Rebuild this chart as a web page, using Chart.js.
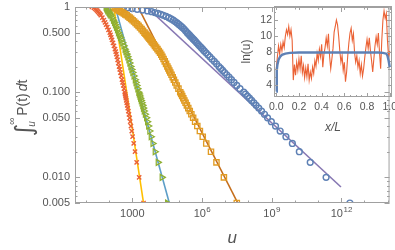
<!DOCTYPE html>
<html>
<head>
<meta charset="utf-8">
<script src="https://cdn.jsdelivr.net/npm/chart.js@4.4.1/dist/chart.umd.min.js"></script>
<style>
  html, body { margin: 0; padding: 0; background: #fff; }
  #wrap { position: relative; width: 395px; height: 250px; overflow: hidden; }
  #main { position: absolute; left: 0; top: 0; }
  #inset { position: absolute; left: 232px; top: 0; }
</style>
</head>
<body>
<div id="wrap">
  <canvas id="main" width="395" height="250"></canvas>
  <canvas id="inset" width="163" height="140"></canvas>
</div>
<script>
// --- survival curves ---
// probability levels for the two steep samples (red, green)
const ccdfLevels = [1, 0.975, 0.95, 0.925, 0.9, 0.875, 0.85, 0.825, 0.8, 0.75, 0.7, 0.66, 0.62, 0.58, 0.54, 0.5,
  0.47, 0.44, 0.41, 0.38, 0.35, 0.32, 0.3, 0.28, 0.26, 0.24, 0.22, 0.2, 0.185, 0.17, 0.155, 0.14, 0.13, 0.12, 0.11, 0.1,
  0.095, 0.09, 0.085, 0.08, 0.075, 0.07, 0.065, 0.06, 0.055, 0.05, 0.045, 0.04, 0.035, 0.03, 0.025, 0.02, 0.015, 0.01, 0.005];
// finer levels for the two shallow samples (orange, blue)
const denseLevels = [1, 0.98, 0.96, 0.94, 0.92, 0.9, 0.88, 0.86, 0.84, 0.82, 0.8,
  0.775, 0.75, 0.725, 0.7, 0.675, 0.65, 0.625, 0.6, 0.575, 0.55, 0.525, 0.5,
  0.485, 0.47, 0.455, 0.44, 0.425, 0.41, 0.395, 0.38, 0.365, 0.35, 0.335, 0.32, 0.305, 0.29, 0.275, 0.26, 0.245, 0.23, 0.215, 0.2,
  0.19, 0.18, 0.17, 0.16, 0.15, 0.14, 0.13, 0.12, 0.11, 0.1,
  0.095, 0.09, 0.085, 0.08, 0.075, 0.07, 0.065, 0.06, 0.055, 0.05, 0.045, 0.04, 0.035, 0.03, 0.025, 0.02, 0.015, 0.01, 0.005];

const redU = [18.2, 22.2, 25.7, 28.7, 31.3, 34.2, 37.4, 40.9, 44.2, 51.2, 59.3, 66.8, 74.4, 83.8, 94.3, 107,
  115, 124, 134, 147, 162, 179, 193, 205, 218, 233, 250, 270, 287, 307, 332, 359, 381, 409, 438, 469,
  488, 507, 528, 549, 576, 606, 636, 675, 716, 767, 813, 871, 943, 1030, 1150, 1310, 1540, 1970, 3040];
const greenU = [72.3, 75.9, 79.7, 83.8, 88.0, 95.2, 102, 109, 118, 133, 151, 167, 184, 203, 224, 247,
  273, 301, 335, 378, 425, 478, 517, 571, 630, 695, 767, 846, 934, 1030, 1160, 1310, 1410, 1540, 1690, 1860,
  1970, 2090, 2220, 2380, 2550, 2760, 2950, 3190, 3560, 4010, 4420, 4920, 5540, 6360, 7590, 9430, 12700, 18800, 32300];
const orangeU = [130, 156, 186, 218, 250, 287, 329, 378, 433, 497, 571,
  662, 767, 889, 1030, 1190, 1380, 1600, 1860, 2150, 2500, 2890, 3350,
  3700, 4090, 4510, 4970, 5490, 6060, 6750, 7520, 8380, 9430, 10600, 12100, 13800, 15700, 17700, 19700, 22200, 25000, 28400, 32300,
  35600, 39300, 43300, 48800, 54900, 61800, 70900, 82100, 97100, 1.16e5,
  1.28e5, 1.41e5, 1.57e5, 1.75e5, 1.97e5, 2.24e5, 2.57e5, 2.98e5, 3.49e5, 4.17e5, 5.07e5, 6.30e5, 8.13e5, 1.08e6, 1.53e6, 2.45e6, 4.21e6, 8.80e6, 3.16e7];
const blueU = [425, 630, 981, 1620, 2700, 4510, 6810, 9430, 12700, 16900, 21800,
  28700, 37400, 46900, 58200, 70200, 84600, 1.01e5, 1.21e5, 1.43e5, 1.69e5, 1.97e5, 2.31e5,
  2.57e5, 2.87e5, 3.19e5, 3.59e5, 4.05e5, 4.60e5, 5.22e5, 5.94e5, 6.81e5, 7.82e5, 9.15e5, 1.07e6, 1.25e6, 1.50e6, 1.81e6, 2.20e6, 2.70e6, 3.39e6, 4.25e6, 5.38e6,
  6.42e6, 7.74e6, 9.43e6, 1.17e7, 1.47e7, 1.86e7, 2.40e7, 3.16e7, 4.33e7, 6.30e7,
  7.52e7, 9.07e7, 1.11e8, 1.37e8, 1.72e8, 2.15e8, 2.78e8, 3.67e8, 4.92e8, 6.68e8, 9.71e8, 1.47e9, 2.33e9, 4.13e9, 7.82e9, 1.56e10, 4.60e10, 2.22e11, 2.35e12];

// power-law fits (end points)
const yellowFitU = [159, 3040],   yellowFitP = [1, 0.005];
const lightBlueFitU = [184, 39300], lightBlueFitP = [1, 0.005];
const brownFitU = [1770, 3.49e7], brownFitP = [1, 0.005];
const purpleFitU = [4090, 9.7e11], purpleFitP = [1, 0.0077];

// axis ticks
const uTickValues = [1e3, 1e6, 1e9, 1e12];
const uTickLabels = ['1000', '10^6', '10^9', '10^12'];
const uMinorTicks = [10, 100, 1e4, 1e5, 1e7, 1e8, 1e10, 1e11, 1e13, 1e14];
const pTickValues = [0.005, 0.01, 0.05, 0.1, 0.5, 1];
const pTickLabels = ['0.005', '0.010', '0.050', '0.100', '0.500', '1'];
const pMinorTicks = [0.006, 0.007, 0.008, 0.009, 0.02, 0.03, 0.04, 0.06, 0.07, 0.08, 0.09, 0.2, 0.3, 0.4, 0.6, 0.7, 0.8, 0.9];

// --- inset: ln(u) profile along x/L ---
const insetX = [0, 0.01, 0.02, 0.03, 0.04, 0.05, 0.06, 0.07, 0.08, 0.09, 0.1, 0.11, 0.12, 0.13, 0.14, 0.15, 0.16, 0.17, 0.18, 0.19,
  0.2, 0.21, 0.22, 0.23, 0.24, 0.25, 0.26, 0.27, 0.28, 0.29, 0.3, 0.31, 0.32, 0.33, 0.34, 0.35, 0.36, 0.37, 0.38, 0.39,
  0.4, 0.41, 0.42, 0.43, 0.44, 0.45, 0.46, 0.47, 0.48, 0.49, 0.5, 0.51, 0.52, 0.53, 0.54, 0.55, 0.56, 0.57, 0.58, 0.59,
  0.6, 0.61, 0.62, 0.63, 0.64, 0.65, 0.66, 0.67, 0.68, 0.69, 0.7, 0.71, 0.72, 0.73, 0.74, 0.75, 0.76, 0.77, 0.78, 0.79,
  0.8, 0.81, 0.82, 0.83, 0.84, 0.85, 0.86, 0.87, 0.88, 0.89, 0.9, 0.91, 0.92, 0.93, 0.94, 0.95, 0.96, 0.97, 0.98, 0.99, 1.0];
const insetLnU = [6.0, 7.5, 8.8, 7.8, 9.0, 8.2, 9.3, 8.6, 10.0, 10.8, 10.2, 11.2, 10.0, 10.8, 9.5, 4.6, 6.5, 5.2, 6.8, 5.8,
  7.2, 6.0, 7.6, 5.5, 6.4, 4.9, 6.1, 5.0, 6.6, 4.6, 5.6, 4.8, 6.2, 5.4, 7.0, 6.3, 7.9, 7.0, 8.4, 7.5,
  9.0, 6.2, 7.8, 8.6, 9.8, 8.8, 10.3, 7.5, 6.0, 7.2, 8.5, 10.5, 11.2, 12.0, 11.4, 10.0, 8.2, 6.8, 7.6, 5.8,
  6.8, 4.4, 5.6, 7.6, 9.2, 10.4, 11.0, 9.5, 10.3, 8.0, 6.8, 7.6, 6.2, 7.0, 5.4, 6.5, 5.1, 6.0, 7.4, 8.6,
  9.6, 8.5, 9.8, 8.2, 7.0, 5.6, 7.2, 8.8, 9.9, 9.0, 10.4, 8.0, 6.0, 9.5, 12.0, 13.1, 12.2, 12.8, 9.5, 7.4, 8.2];
const meanX = [0, 0.003, 0.006, 0.01, 0.02, 0.035, 0.05, 0.08, 0.12, 0.2, 0.4, 0.6, 0.8, 0.9, 0.94, 0.97, 0.98, 0.99, 1.0];
const meanLnU = [3.2, 4.6, 5.8, 6.5, 7.1, 7.5, 7.7, 7.85, 7.95, 8.0, 8.0, 8.0, 8.0, 8.0, 7.95, 7.85, 7.6, 7.0, 6.2];
const xTickValues = [0, 0.2, 0.4, 0.6, 0.8, 1.0];
const xTickLabels = ['0.0', '0.2', '0.4', '0.6', '0.8', '1.0'];
const xMinorTicks = [0.05, 0.1, 0.15, 0.25, 0.3, 0.35, 0.45, 0.5, 0.55, 0.65, 0.7, 0.75, 0.85, 0.9, 0.95];
const lnTickValues = [4, 6, 8, 10, 12];
const lnTickLabels = ['4', '6', '8', '10', '12'];
const lnMinorTicks = [3, 5, 7, 9, 11, 13];

// --- styling ---
const FONT = '"Liberation Sans", Arial, sans-serif';
const INK = '#555555';
const FRAME = '#a0a0a0';
const C = {
  blue: '#5E81B5', orange: '#E19C24', green: '#8FB032', red: '#EB6235',
  purple: '#8778B3', brown: '#C56E1A', lightBlue: '#5D9EC7', yellow: '#FFBF00'
};

function pairs(xs, ys) {
  return xs.map((x, i) => ({ x, y: ys[i] }));
}

// tick text, "10^6" style gets a raised exponent
function drawTickText(ctx, text, x, y, align, size) {
  const parts = text.split('^');
  ctx.font = size + 'px ' + FONT;
  if (parts.length === 1) {
    ctx.textAlign = align;
    ctx.fillText(text, x, y);
    return;
  }
  const small = Math.round(size * 0.75);
  const wb = ctx.measureText(parts[0]).width;
  ctx.font = small + 'px ' + FONT;
  const we = ctx.measureText(parts[1]).width;
  let x0 = x - (wb + we) / 2;
  if (align === 'right') x0 = x - wb - we;
  ctx.textAlign = 'left';
  ctx.font = size + 'px ' + FONT;
  ctx.fillText(parts[0], x0, y);
  ctx.font = small + 'px ' + FONT;
  ctx.fillText(parts[1], x0 + wb + 0.5, y - size * 0.42);
}

// Mathematica-like frame: box, inward ticks on all sides, labels left/bottom
function makeFrame(cfg) {
  return {
    id: 'frame',
    afterDatasetsDraw(chart) {
      const { ctx, chartArea: a } = chart;
      const sx = chart.scales.x, sy = chart.scales.y;
      ctx.save();
      ctx.strokeStyle = FRAME;
      ctx.lineWidth = 1;
      ctx.strokeRect(a.left + 0.5, a.top + 0.5, a.right - a.left - 1, a.bottom - a.top - 1);
      ctx.beginPath();
      const tickX = (v, len) => {
        const p = Math.round(sx.getPixelForValue(v)) + 0.5;
        ctx.moveTo(p, a.bottom); ctx.lineTo(p, a.bottom - len);
        ctx.moveTo(p, a.top); ctx.lineTo(p, a.top + len);
      };
      const tickY = (v, len) => {
        const p = Math.round(sy.getPixelForValue(v)) + 0.5;
        ctx.moveTo(a.left, p); ctx.lineTo(a.left + len, p);
        ctx.moveTo(a.right, p); ctx.lineTo(a.right - len, p);
      };
      cfg.xMajor.forEach(v => tickX(v, cfg.major));
      cfg.xMinor.forEach(v => tickX(v, cfg.minor));
      cfg.yMajor.forEach(v => tickY(v, cfg.major));
      cfg.yMinor.forEach(v => tickY(v, cfg.minor));
      ctx.stroke();

      ctx.fillStyle = INK;
      ctx.textBaseline = 'middle';
      cfg.xMajor.forEach((v, i) =>
        drawTickText(ctx, cfg.xLabels[i], sx.getPixelForValue(v), a.bottom + cfg.xGap, 'center', cfg.size));
      cfg.yMajor.forEach((v, i) =>
        drawTickText(ctx, cfg.yLabels[i], a.left - cfg.yGap, sy.getPixelForValue(v), 'right', cfg.size));
      if (cfg.titles) cfg.titles(ctx, a);
      ctx.restore();
    }
  };
}

// rotated y title:  ∫_u^∞ P(t) dt
function drawIntegralTitle(ctx, cx, cy) {
  ctx.save();
  ctx.translate(cx, cy);
  ctx.rotate(-Math.PI / 2);
  ctx.fillStyle = INK;
  ctx.textAlign = 'left';
  ctx.textBaseline = 'alphabetic';
  const fInt = '24px "DejaVu Sans"';
  const fMain = '14px ' + FONT;
  const fDiff = 'italic 14px ' + FONT;
  ctx.font = fInt;
  const wInt = ctx.measureText('\u222B').width;
  ctx.font = fMain;
  const wP = ctx.measureText('P(t)').width;
  const wT = ctx.measureText('t').width;
  ctx.font = fDiff;
  const wD = ctx.measureText('d').width;
  const gap1 = 8, gap2 = 2;
  const total = wInt + gap1 + wP + gap2 + wD + wT;
  let x = -total / 2;
  ctx.font = fInt;
  ctx.fillText('\u222B', x, 5);
  ctx.font = '10px ' + FONT;
  ctx.fillText('\u221E', x + wInt - 1, -12);
  ctx.font = 'italic 10px ' + FONT;
  ctx.fillText('u', x + wInt - 3, 8);
  x += wInt + gap1;
  ctx.font = fMain;
  ctx.fillText('P(t)', x, 0);
  x += wP + gap2;
  ctx.font = fDiff;
  ctx.fillText('d', x, 0);
  x += wD;
  ctx.font = fMain;
  ctx.fillText('t', x, 0);
  ctx.restore();
}

const markerSet = (label, us, levels, color, style, radius, rotation, width) => ({
  label, data: pairs(us, levels), showLine: false,
  pointStyle: style, pointRadius: radius, pointRotation: rotation,
  pointBorderColor: color, pointBackgroundColor: 'rgba(0,0,0,0)', pointBorderWidth: width,
  borderColor: color, clip: 0
});
const fitSet = (label, us, ps, color) => ({
  label, data: pairs(us, ps), showLine: true, pointRadius: 0,
  borderColor: color, borderWidth: 1.6, clip: 0
});

// markers first in the list so they are painted over the fit lines
new Chart(document.getElementById('main'), {
  type: 'scatter',
  data: {
    datasets: [
      markerSet('sample 4', redU, ccdfLevels, C.red, 'crossRot', 3, 0, 1.4),
      markerSet('sample 3', greenU, ccdfLevels, C.green, 'triangle', 3.4, 90, 1.25),
      markerSet('sample 2', orangeU, denseLevels, C.orange, 'rect', 3.7, 0, 1.35),
      markerSet('sample 1', blueU, denseLevels, C.blue, 'circle', 2.9, 0, 1.45),
      fitSet('fit 4', yellowFitU, yellowFitP, C.yellow),
      fitSet('fit 3', lightBlueFitU, lightBlueFitP, C.lightBlue),
      fitSet('fit 2', brownFitU, brownFitP, C.brown),
      fitSet('fit 1', purpleFitU, purpleFitP, C.purple)
    ]
  },
  options: {
    responsive: false,
    animation: false,
    events: [],
    layout: { padding: { left: 0, right: 3, top: 7, bottom: 0 } },
    plugins: { legend: { display: false }, tooltip: { enabled: false } },
    scales: {
      x: {
        type: 'logarithmic', min: 3.4, max: 1.2e14,
        ticks: { display: false }, grid: { display: false }, border: { display: false },
        afterFit: s => { s.height = 47; }
      },
      y: {
        type: 'logarithmic', min: 0.005, max: 1,
        ticks: { display: false }, grid: { display: false }, border: { display: false },
        afterFit: s => { s.width = 75; }
      }
    }
  },
  plugins: [makeFrame({
    xMajor: uTickValues, xLabels: uTickLabels, xMinor: uMinorTicks,
    yMajor: pTickValues, yLabels: pTickLabels, yMinor: pMinorTicks,
    major: 5, minor: 2.5, size: 11, xGap: 11, yGap: 5,
    titles: (ctx, a) => {
      ctx.font = 'italic 17px ' + FONT;
      ctx.textAlign = 'center';
      ctx.textBaseline = 'middle';
      ctx.fillText('u', (a.left + a.right) / 2, 238);
      drawIntegralTitle(ctx, 27, 108);
    }
  })]
});

new Chart(document.getElementById('inset'), {
  type: 'scatter',
  data: {
    datasets: [
      {
        label: 'mean', data: pairs(meanX, meanLnU), showLine: true, pointRadius: 0,
        borderColor: C.blue, borderWidth: 2.4, clip: 0
      },
      {
        label: 'profile', data: pairs(insetX, insetLnU), showLine: true, pointRadius: 0,
        borderColor: C.red, borderWidth: 1.1, clip: 0
      }
    ]
  },
  options: {
    responsive: false,
    animation: false,
    events: [],
    layout: { padding: { left: 0, right: 3, top: 6, bottom: 0 } },
    plugins: { legend: { display: false }, tooltip: { enabled: false } },
    scales: {
      x: {
        type: 'linear', min: -0.02, max: 1.02,
        ticks: { display: false }, grid: { display: false }, border: { display: false },
        afterFit: s => { s.height = 43; }
      },
      y: {
        type: 'linear', min: 2.52, max: 13.72,
        ticks: { display: false }, grid: { display: false }, border: { display: false },
        afterFit: s => { s.width = 42; }
      }
    }
  },
  plugins: [makeFrame({
    xMajor: xTickValues, xLabels: xTickLabels, xMinor: xMinorTicks,
    yMajor: lnTickValues, yLabels: lnTickLabels, yMinor: lnMinorTicks,
    major: 4, minor: 2, size: 10.5, xGap: 10, yGap: 2,
    titles: (ctx, a) => {
      ctx.textAlign = 'center';
      ctx.textBaseline = 'middle';
      ctx.font = 'italic 12px ' + FONT;
      ctx.fillText('x/L', (a.left + a.right) / 2, 128);
      ctx.save();
      ctx.translate(15, (a.top + a.bottom) / 2);
      ctx.rotate(-Math.PI / 2);
      ctx.font = '12px ' + FONT;
      ctx.fillText('ln(u)', 0, 0);
      ctx.restore();
    }
  })]
});
</script>
</body>
</html>
